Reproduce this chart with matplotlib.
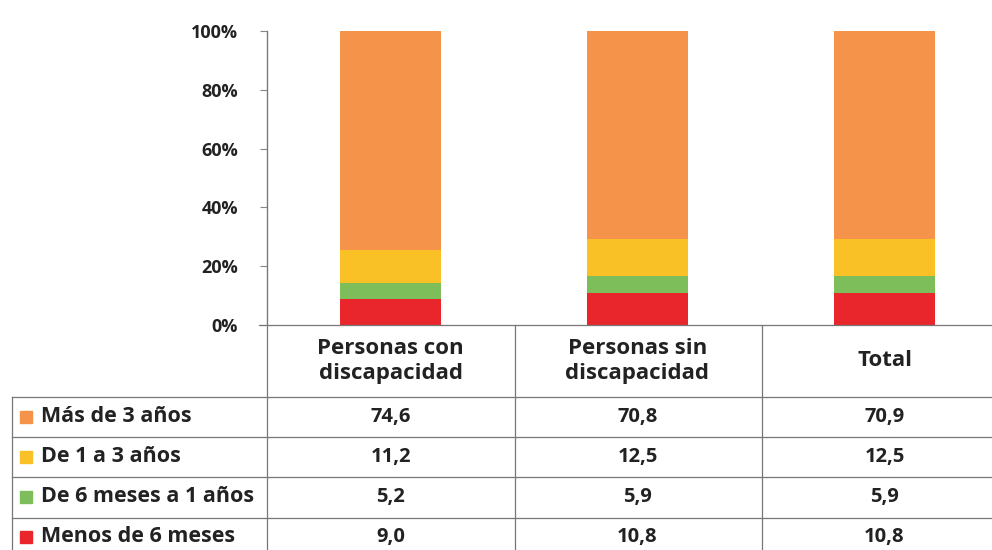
import matplotlib
matplotlib.use("Agg")
import matplotlib.pyplot as plt
from matplotlib.lines import Line2D
from matplotlib.patches import Rectangle

categories = ["Personas con\ndiscapacidad", "Personas sin\ndiscapacidad", "Total"]
series_names = ["Más de 3 años", "De 1 a 3 años", "De 6 meses a 1 años", "Menos de 6 meses"]
mas_3 = [74.6, 70.8, 70.9]
de_1_3 = [11.2, 12.5, 12.5]
de_6m_1 = [5.2, 5.9, 5.9]
menos_6m = [9.0, 10.8, 10.8]
value_labels = {
    "Más de 3 años": ["74,6", "70,8", "70,9"],
    "De 1 a 3 años": ["11,2", "12,5", "12,5"],
    "De 6 meses a 1 años": ["5,2", "5,9", "5,9"],
    "Menos de 6 meses": ["9,0", "10,8", "10,8"],
}
yticks = [0, 20, 40, 60, 80, 100]
ytick_labels = ["0%", "20%", "40%", "60%", "80%", "100%"]

colors = {
    "Más de 3 años": "#F5934A",
    "De 1 a 3 años": "#F9C125",
    "De 6 meses a 1 años": "#7DBE5A",
    "Menos de 6 meses": "#E8262B",
}

plt.rcParams['font.family'] = ['Open Sans', 'DejaVu Sans']

W, H = 992, 550
fig = plt.figure(figsize=(W / 100, H / 100), dpi=100)

def fx(px):
    return px / W

def fy(py):
    return 1 - py / H

ax_left, ax_right, ax_top, ax_bottom = 267, 992, 31, 325
cat_w = 247.0
ax = fig.add_axes([fx(ax_left), fy(ax_bottom), fx(ax_right - ax_left), (ax_bottom - ax_top) / H])
ax.set_xlim(0, (ax_right - ax_left) / cat_w)
ax.set_ylim(0, 100)

x = [i + 0.5 for i in range(len(categories))]
stack_order = [("Menos de 6 meses", menos_6m), ("De 6 meses a 1 años", de_6m_1),
               ("De 1 a 3 años", de_1_3), ("Más de 3 años", mas_3)]
bottom = [0.0] * len(categories)
for name, vals in stack_order:
    ax.bar(x, vals, width=0.405, bottom=bottom, color=colors[name], edgecolor='none')
    bottom = [b + v for b, v in zip(bottom, vals)]

ax.set_yticks(yticks)
ax.set_yticklabels(ytick_labels, fontsize=13, fontweight='bold', color='#222222')
ax.tick_params(axis='y', length=5, width=0.8, color='#888888', pad=16)
ax.set_xticks([])
for s in ['top', 'right', 'bottom']:
    ax.spines[s].set_visible(False)
ax.spines['left'].set_color('#888888')
ax.spines['left'].set_linewidth(0.8)

# table grid
lc = '#777777'
lw = 0.9
def hline(y, x0, x1):
    fig.add_artist(Line2D([fx(x0), fx(x1)], [fy(y), fy(y)], color=lc, lw=lw))
def vline(xp, y0, y1):
    fig.add_artist(Line2D([fx(xp), fx(xp)], [fy(y0), fy(y1)], color=lc, lw=lw))

hline(325, 259, 992)
row_lines = [397, 437, 477, 518]
for y in row_lines:
    hline(y, 12, 992)
vline(267, 31, 550)
vline(515, 325, 550)
vline(762, 325, 550)
vline(12, 397, 550)

# header labels
for i, c in enumerate(categories):
    cx = ax_left + (x[i]) * cat_w
    fig.text(fx(cx), fy(361), c, ha='center', va='center', fontsize=16,
             fontweight='bold', color='#222222', linespacing=1.25)

# rows
row_centers = [417, 457, 497, 537]
for r, name in enumerate(series_names):
    yc = row_centers[r]
    fig.add_artist(Rectangle((fx(20), fy(yc + 6)), 12 / W, 12 / H, color=colors[name],
                             transform=fig.transFigure))
    fig.text(fx(41), fy(yc), name, ha='left', va='center', fontsize=15.5,
             fontweight='bold', color='#222222')
    for i in range(len(categories)):
        cx = ax_left + x[i] * cat_w
        fig.text(fx(cx), fy(yc), value_labels[name][i], ha='center', va='center',
                 fontsize=14.5, fontweight='bold', color='#222222')

fig.savefig("out.png", dpi=100)
